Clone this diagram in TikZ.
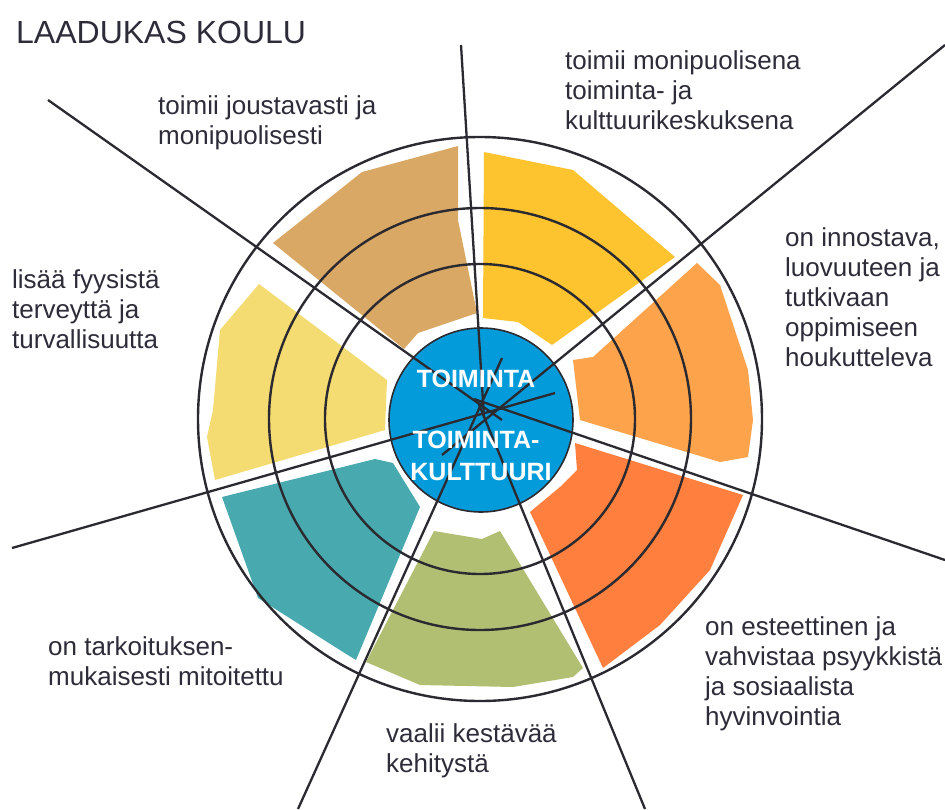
\documentclass[tikz,border=0pt]{standalone}
\usepackage{fontspec}
\setmainfont{Liberation Sans}
\definecolor{inkline}{RGB}{42,42,48}
\definecolor{txt}{RGB}{45,45,58}
\definecolor{cbrown}{RGB}{217,168,100}
\definecolor{cgold}{RGB}{253,196,47}
\definecolor{clorange}{RGB}{253,163,75}
\definecolor{corange}{RGB}{255,127,62}
\definecolor{cgreen}{RGB}{177,191,115}
\definecolor{cteal}{RGB}{72,170,175}
\definecolor{cpale}{RGB}{244,220,114}
\definecolor{cblue}{RGB}{4,155,218}
\begin{document}
\begin{tikzpicture}[x=1pt,y=-1pt,
  ray/.style={draw=inkline, line width=2.3pt},
  ring/.style={draw=inkline, line width=2.4pt},
  % multi-line labels are anchored at the baseline of their last line
  lbl/.style={anchor=base west, align=left, inner sep=0pt, text=txt,
    font=\fontsize{26}{30}\selectfont},
  corelbl/.style={anchor=base, inner sep=0pt, text=white,
    font=\fontsize{25}{31}\selectfont\bfseries}]
\useasboundingbox (0,0) rectangle (945,809);
\fill[white] (0,0) rectangle (945,809);

% sector fields
\fill[cbrown] (458,146) -- (362,172) -- (273,243) -- (404,349) -- (418,333)
  -- (477,313) -- (458,220) -- cycle;
\fill[cgold] (484,152) -- (573,170) -- (675,257) -- (552,345) -- (518,322)
  -- (483,318) -- cycle;
\fill[clorange] (697,263) -- (720,285) -- (748,370) -- (753,420) -- (748,457)
  -- (720,462) -- (580,420) -- (573,360) -- (593,357) -- cycle;
\fill[corange] (575,443) -- (743,495) -- (710,570) -- (660,625) -- (603,668)
  -- (530,512) -- (560,487) -- (577,470) -- cycle;
\fill[cgreen] (434,531) -- (482,539) -- (500,531) -- (583,668) -- (573,677)
  -- (513,687) -- (420,685) -- (366,662) -- cycle;
\fill[cteal] (222,497) -- (375,459) -- (393,463) -- (420,507) -- (356,660)
  -- (343,652) -- (258,598) -- cycle;
\fill[cpale] (259,284) -- (387,380) -- (385,430) -- (215,480) -- (207,437)
  -- (213,410) -- (220,330) -- cycle;

% rings
\draw[ring] (480,419) circle[radius=282pt];
\draw[ring] (480,419) circle[radius=211pt];
\draw[ring] (480,419) circle[radius=155pt];

% core
\node[circle, fill=cblue, draw=inkline, line width=1.6pt, minimum size=184pt,
  inner sep=0pt] (core) at (481,420) {};

% rays
\coordinate (tOut) at (461,45);   \coordinate (tIn) at (484,418);
\coordinate (urOut) at (945,45);  \coordinate (urIn) at (442,455);
\coordinate (rOut) at (945,560);  \coordinate (rIn) at (474,399);
\coordinate (lrOut) at (645,809); \coordinate (lrIn) at (478,402);
\coordinate (llOut) at (298,809); \coordinate (llIn) at (502,358);
\coordinate (lOut) at (12,548);   \coordinate (lIn) at (555,393);
\coordinate (ulOut) at (48,100);  \coordinate (ulIn) at (502,420);
\foreach \a in {t,ur,r,lr,ll,l,ul} \draw[ray] (\a In) -- (\a Out);

% core texts
\node[corelbl] (c1) at (476,387) {TOIMINTA};
\node[corelbl] (c2) at (476,448) {TOIMINTA-};
\node[corelbl] (c3) at (481,480) {KULTTUURI};

% title and labels
\node[anchor=base west, inner sep=0pt, text=txt, font=\fontsize{32}{36}\selectfont]
  (title) at (16,43) {LAADUKAS KOULU};
\node[lbl] (l1) at (158,144) {toimii joustavasti ja\\monipuolisesti};
\node[lbl] (l2) at (565,129) {toimii monipuolisena\\toiminta- ja\\kulttuurikeskuksena};
\node[lbl] (l3) at (785,366) {on innostava,\\luovuuteen ja\\tutkivaan\\oppimiseen\\houkutteleva};
\node[lbl] (l4) at (12,348) {lisää fyysistä\\terveyttä ja\\turvallisuutta};
\node[lbl] (l5) at (48,685) {on tarkoituksen-\\mukaisesti mitoitettu};
\node[lbl] (l6) at (386,772) {vaalii kestävää\\kehitystä};
\node[lbl] (l7) at (705,725) {on esteettinen ja\\vahvistaa psyykkistä\\ja sosiaalista\\hyvinvointia};
\end{tikzpicture}
\end{document}
